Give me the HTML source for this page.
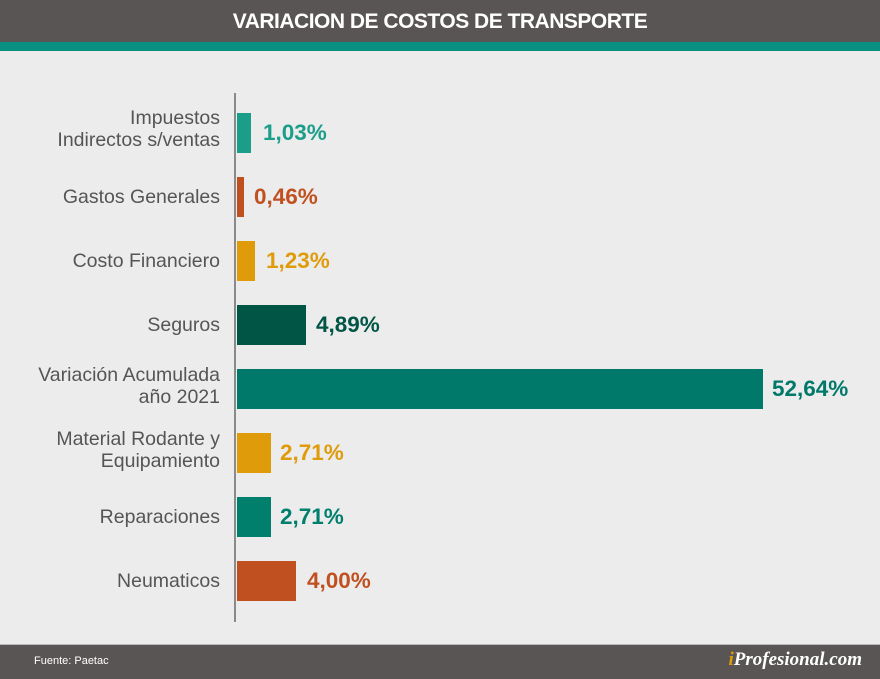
<!DOCTYPE html>
<html><head><style>
body{margin:0;width:880px;height:678px;background:#ececec;font-family:"Liberation Sans",sans-serif;position:relative;overflow:hidden}
.hd{position:absolute;left:0;top:0;width:880px;height:42px;background:#595554;color:#fff;font-weight:bold;font-size:21px;text-align:center;line-height:44px;letter-spacing:-0.5px}
.tl{position:absolute;left:0;top:42px;width:880px;height:9px;background:#0a9080}
.ft{position:absolute;left:0;top:644px;width:880px;height:34px;background:#595554;border-top:1px solid #bbb}
.ax{position:absolute;left:234px;top:93px;width:2px;height:529px;background:#8a8a8a}
.b{position:absolute;left:237px;height:40px}
.l{position:absolute;right:660px;width:230px;text-align:right;font-size:19.5px;color:#555;line-height:22px}
.v{position:absolute;font-weight:bold;font-size:22.5px;line-height:40px}
</style></head><body>
<div class="hd">VARIACION DE COSTOS DE TRANSPORTE</div>
<div class="tl"></div>
<div class="ax"></div>

<div class="l" style="top:107px">Impuestos<br>Indirectos s/ventas</div>
<div class="b" style="top:113px;width:14px;background:#1a9e8a"></div>
<div class="v" style="top:113px;left:263px;color:#1a9e8a">1,03%</div>

<div class="l" style="top:186px">Gastos Generales</div>
<div class="b" style="top:177px;width:7px;background:#c0501f"></div>
<div class="v" style="top:177px;left:254px;color:#c0501f">0,46%</div>

<div class="l" style="top:250px">Costo Financiero</div>
<div class="b" style="top:241px;width:18px;background:#e09b0a"></div>
<div class="v" style="top:241px;left:266px;color:#e09b0a">1,23%</div>

<div class="l" style="top:314px">Seguros</div>
<div class="b" style="top:305px;width:69px;background:#005545"></div>
<div class="v" style="top:305px;left:316px;color:#005545">4,89%</div>

<div class="l" style="top:364px">Variación Acumulada<br>año 2021</div>
<div class="b" style="top:369px;width:526px;background:#00796b"></div>
<div class="v" style="top:369px;left:772px;color:#00796b">52,64%</div>

<div class="l" style="top:428px">Material Rodante y<br>Equipamiento</div>
<div class="b" style="top:433px;width:34px;background:#e09b0a"></div>
<div class="v" style="top:433px;left:280px;color:#e09b0a">2,71%</div>

<div class="l" style="top:506px">Reparaciones</div>
<div class="b" style="top:497px;width:34px;background:#00806c"></div>
<div class="v" style="top:497px;left:280px;color:#00806c">2,71%</div>

<div class="l" style="top:570px">Neumaticos</div>
<div class="b" style="top:561px;width:59px;background:#c0501f"></div>
<div class="v" style="top:561px;left:307px;color:#c0501f">4,00%</div>

<div class="ft">
<div style="position:absolute;left:34px;top:10px;color:#fff;font-size:11px">Fuente: Paetac</div>
<div style="position:absolute;right:18px;top:4px;color:#fff;font-family:'Liberation Serif',serif;font-style:italic;font-weight:bold;font-size:19px"><span style="color:#e09b0a">i</span>Profesional.com</div>
</div>
</body></html>
